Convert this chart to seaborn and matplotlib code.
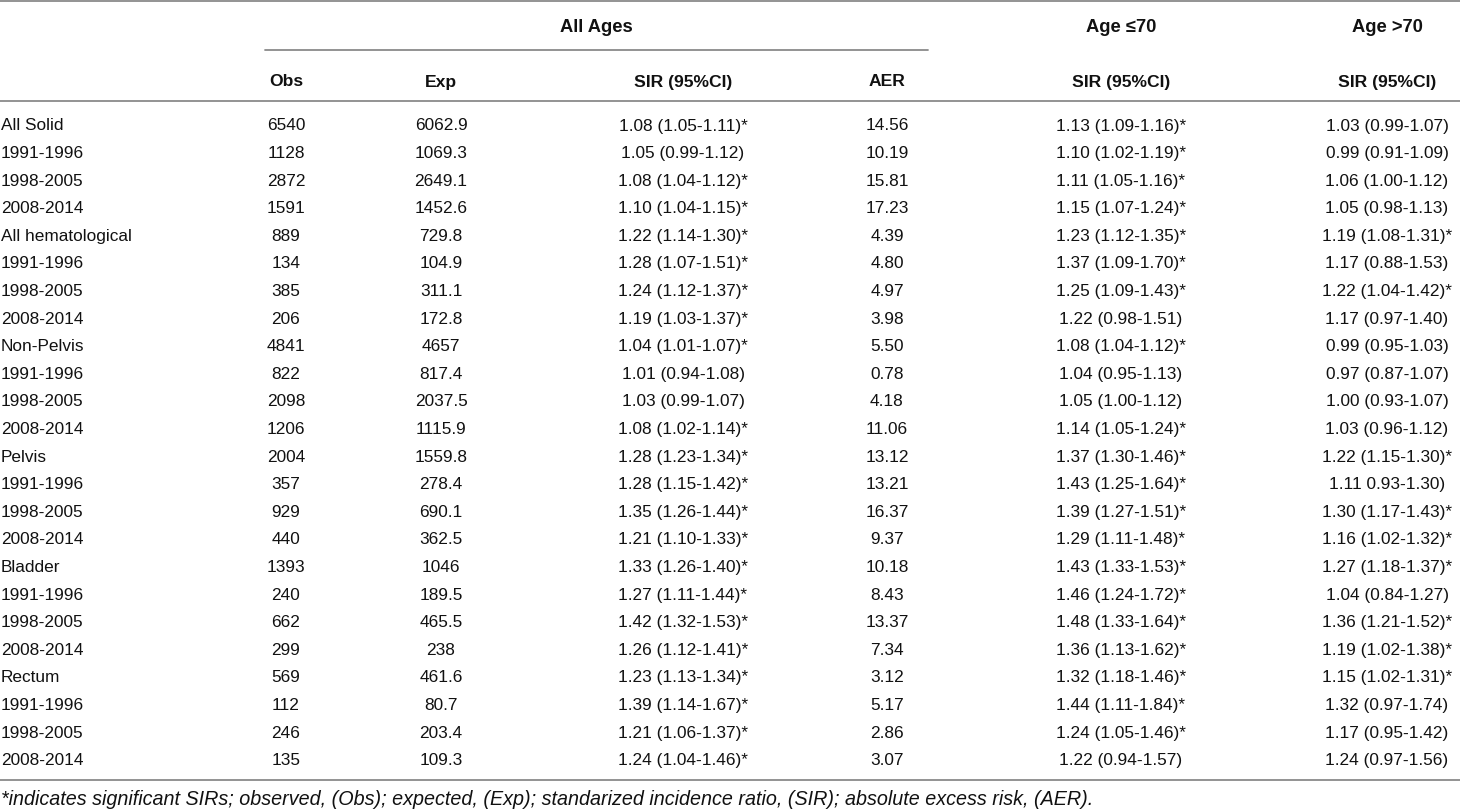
import matplotlib
matplotlib.use("Agg")
import matplotlib.pyplot as plt
import seaborn as sns

sns.set_theme(style="white")
plt.rcParams['font.family'] = ['Liberation Sans', 'DejaVu Sans']

row_labels = ["All Solid", "1991-1996", "1998-2005", "2008-2014",
              "All hematological", "1991-1996", "1998-2005", "2008-2014",
              "Non-Pelvis", "1991-1996", "1998-2005", "2008-2014",
              "Pelvis", "1991-1996", "1998-2005", "2008-2014",
              "Bladder", "1991-1996", "1998-2005", "2008-2014",
              "Rectum", "1991-1996", "1998-2005", "2008-2014"]
obs = ["6540", "1128", "2872", "1591", "889", "134", "385", "206",
       "4841", "822", "2098", "1206", "2004", "357", "929", "440",
       "1393", "240", "662", "299", "569", "112", "246", "135"]
exp = ["6062.9", "1069.3", "2649.1", "1452.6", "729.8", "104.9", "311.1", "172.8",
       "4657", "817.4", "2037.5", "1115.9", "1559.8", "278.4", "690.1", "362.5",
       "1046", "189.5", "465.5", "238", "461.6", "80.7", "203.4", "109.3"]
sir_all = ["1.08 (1.05-1.11)*", "1.05 (0.99-1.12)", "1.08 (1.04-1.12)*", "1.10 (1.04-1.15)*",
           "1.22 (1.14-1.30)*", "1.28 (1.07-1.51)*", "1.24 (1.12-1.37)*", "1.19 (1.03-1.37)*",
           "1.04 (1.01-1.07)*", "1.01 (0.94-1.08)", "1.03 (0.99-1.07)", "1.08 (1.02-1.14)*",
           "1.28 (1.23-1.34)*", "1.28 (1.15-1.42)*", "1.35 (1.26-1.44)*", "1.21 (1.10-1.33)*",
           "1.33 (1.26-1.40)*", "1.27 (1.11-1.44)*", "1.42 (1.32-1.53)*", "1.26 (1.12-1.41)*",
           "1.23 (1.13-1.34)*", "1.39 (1.14-1.67)*", "1.21 (1.06-1.37)*", "1.24 (1.04-1.46)*"]
aer = ["14.56", "10.19", "15.81", "17.23", "4.39", "4.80", "4.97", "3.98",
       "5.50", "0.78", "4.18", "11.06", "13.12", "13.21", "16.37", "9.37",
       "10.18", "8.43", "13.37", "7.34", "3.12", "5.17", "2.86", "3.07"]
sir_le70 = ["1.13 (1.09-1.16)*", "1.10 (1.02-1.19)*", "1.11 (1.05-1.16)*", "1.15 (1.07-1.24)*",
            "1.23 (1.12-1.35)*", "1.37 (1.09-1.70)*", "1.25 (1.09-1.43)*", "1.22 (0.98-1.51)",
            "1.08 (1.04-1.12)*", "1.04 (0.95-1.13)", "1.05 (1.00-1.12)", "1.14 (1.05-1.24)*",
            "1.37 (1.30-1.46)*", "1.43 (1.25-1.64)*", "1.39 (1.27-1.51)*", "1.29 (1.11-1.48)*",
            "1.43 (1.33-1.53)*", "1.46 (1.24-1.72)*", "1.48 (1.33-1.64)*", "1.36 (1.13-1.62)*",
            "1.32 (1.18-1.46)*", "1.44 (1.11-1.84)*", "1.24 (1.05-1.46)*", "1.22 (0.94-1.57)"]
sir_gt70 = ["1.03 (0.99-1.07)", "0.99 (0.91-1.09)", "1.06 (1.00-1.12)", "1.05 (0.98-1.13)",
            "1.19 (1.08-1.31)*", "1.17 (0.88-1.53)", "1.22 (1.04-1.42)*", "1.17 (0.97-1.40)",
            "0.99 (0.95-1.03)", "0.97 (0.87-1.07)", "1.00 (0.93-1.07)", "1.03 (0.96-1.12)",
            "1.22 (1.15-1.30)*", "1.11 0.93-1.30)", "1.30 (1.17-1.43)*", "1.16 (1.02-1.32)*",
            "1.27 (1.18-1.37)*", "1.04 (0.84-1.27)", "1.36 (1.21-1.52)*", "1.19 (1.02-1.38)*",
            "1.15 (1.02-1.31)*", "1.32 (0.97-1.74)", "1.17 (0.95-1.42)", "1.24 (0.97-1.56)"]
group_headers = ["All Ages", "Age \u226470", "Age >70"]
sub_headers = ["Obs", "Exp", "SIR (95%CI)", "AER", "SIR (95%CI)", "SIR (95%CI)"]
footnote = ("*indicates significant SIRs; observed, (Obs); expected, (Exp); "
            "standarized incidence ratio, (SIR); absolute excess risk, (AER).")

W, H = 1460, 812
fig = plt.figure(figsize=(W / 100, H / 100), dpi=100)
ax = fig.add_axes([0, 0, 1, 1])
ax.set_xlim(0, W)
ax.set_ylim(H, 0)
ax.axis("off")

col_x = [286, 441, 683, 887, 1121, 1387]
group_x = [596, 1121, 1387]
line_col = "#8a8a8a"
txt_col = "#111111"
fs = 12.4

# rules
ax.plot([0, W], [1.5, 1.5], color=line_col, lw=1.3)
ax.plot([265, 928], [51, 51], color=line_col, lw=1.3)
ax.plot([0, W], [102, 102], color=line_col, lw=1.3)
ax.plot([0, W], [781, 781], color=line_col, lw=1.3)

for gx, g in zip(group_x, group_headers):
    ax.text(gx, 27, g, ha="center", va="center", fontsize=13.2, fontweight="bold",
            color=txt_col)
for cx, s in zip(col_x, sub_headers):
    ax.text(cx, 82, s, ha="center", va="center", fontsize=12.6, fontweight="bold",
            color=txt_col)

columns = [obs, exp, sir_all, aer, sir_le70, sir_gt70]
y0, dy = 126, 27.6
for i, lab in enumerate(row_labels):
    y = y0 + i * dy
    ax.text(1, y, lab, ha="left", va="center", fontsize=fs, color=txt_col)
    for cx, col in zip(col_x, columns):
        ax.text(cx, y, col[i], ha="center", va="center", fontsize=fs, color=txt_col)

ax.text(1, 800, footnote, ha="left", va="center", fontsize=14.2, style="italic",
        color=txt_col)

fig.savefig("out.png", dpi=100, facecolor="white")
